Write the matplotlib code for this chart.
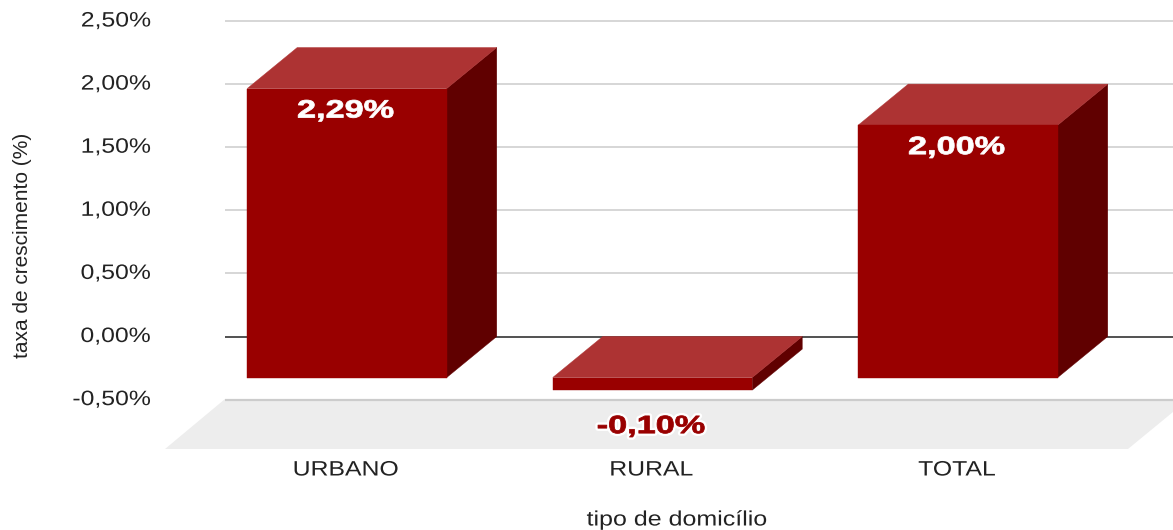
import matplotlib
matplotlib.use("Agg")
import matplotlib.pyplot as plt
from matplotlib.patches import Polygon
from matplotlib.patheffects import AbstractPathEffect
from matplotlib.transforms import Affine2D, blended_transform_factory

categories = ["URBANO", "RURAL", "TOTAL"]
growth = [2.29, -0.10, 2.00]
value_labels = ["2,29%", "-0,10%", "2,00%"]
y_ticks = [2.5, 2.0, 1.5, 1.0, 0.5, 0.0, -0.5]
y_tick_labels = ["2,50%", "2,00%", "1,50%", "1,00%", "0,50%", "0,00%", "-0,50%"]

W, H = 1173, 530
X_PX = 305.5   # pixels per category
Y_PX = 126.2   # pixels per percentage point
X0, Y0 = 347, 336.5   # where category 0 / value 0 sit
DX, DY = 50 / X_PX, 41 / Y_PX   # depth of the fake 3D box
BAR_W = 199.5 / X_PX


class Widen(AbstractPathEffect):
    """Stretch a text's glyphs sideways, with an optional halo."""

    def __init__(self, sx, anchor="center", **gc_kw):
        super().__init__()
        self.sx, self.anchor, self.gc_kw = sx, anchor, gc_kw

    def draw_path(self, renderer, gc, tpath, affine, rgbFace=None):
        box = tpath.get_extents()
        x0 = box.x1 if self.anchor == "right" else (box.x0 + box.x1) / 2
        aff = Affine2D().translate(-x0, 0).scale(self.sx, 1).translate(x0, 0) + affine
        gc0 = renderer.new_gc()
        gc0.copy_properties(gc)
        gc0 = self._update_gc(gc0, self.gc_kw)
        renderer.draw_path(gc0, tpath, aff, rgbFace)
        gc0.restore()


plt.rcParams["font.family"] = ["Liberation Sans", "DejaVu Sans"]
fig = plt.figure(figsize=(W / 100, H / 100), dpi=100)
ax = fig.add_axes([0, 0, 1, 1])
ax.set_xlim(-X0 / X_PX, (W - X0) / X_PX)
ax.set_ylim(-(H - Y0) / Y_PX, Y0 / Y_PX)
ax.axis("off")

# pixel-style coordinates for the floor and the axis titles
pix = Affine2D().scale(1, -1).translate(0, H)
y_data = blended_transform_factory(pix, ax.transData)
x_data = blended_transform_factory(ax.transData, pix)

ax.add_patch(Polygon([(225, 399), (165, 449), (1128, 449), (1173, 412), (1173, 399)],
                     closed=True, fc="#ededed", ec="none", transform=pix, zorder=1))

for v, lab in zip(y_ticks, y_tick_labels):
    col, lw = ("#333333", 1.2) if v == 0 else ("#cccccc", 1.6 if v == -0.5 else 1.1)
    ax.plot([225, W], [v, v], color=col, lw=lw, transform=y_data, zorder=2, solid_capstyle="butt")
    ax.text(151, v, lab, transform=y_data, ha="right", va="center", fontsize=15, color="#222222",
            path_effects=[Widen(1.19, "right")])

for i, (v, lab) in enumerate(zip(growth, value_labels)):
    top, bot = max(v, 0), min(v, 0)
    l, r = i - BAR_W / 2, i + BAR_W / 2
    y_base = top - DY
    y_low = bot - DY
    ax.add_patch(Polygon([(r, y_base), (r + DX, top), (r + DX, bot), (r, y_low)],
                         fc="#600000", ec="#600000", lw=0.3, zorder=3))
    ax.add_patch(Polygon([(l, y_base), (l + DX, top), (r + DX, top), (r, y_base)],
                         fc="#ad3333", ec="#ad3333", lw=0.3, zorder=3))
    ax.add_patch(Polygon([(l, y_low), (l, y_base), (r, y_base), (r, y_low)],
                         fc="#990000", ec="#990000", lw=0.3, zorder=4))
    if v >= 0:
        ax.annotate(lab, xy=(i, y_base), xytext=(-1, -22 * 0.72), textcoords="offset points",
                    ha="center", va="center", fontsize=18, fontweight="bold", color="white",
                    zorder=5, path_effects=[Widen(1.37, linewidth=0.6, foreground="white")])
    else:
        ax.annotate(lab, xy=(i, y_low), xytext=(-1, -36 * 0.72), textcoords="offset points",
                    ha="center", va="center", fontsize=18, fontweight="bold", color="#990000",
                    zorder=5, path_effects=[Widen(1.37, linewidth=4, foreground="white"),
                                            Widen(1.37, linewidth=0.6, foreground="#990000")])
    ax.text(i - 1 / X_PX, 470, categories[i], transform=x_data,
            ha="center", va="center", fontsize=15, color="#222222", path_effects=[Widen(1.19)])

ax.text(677, 520, "tipo de domicílio", transform=pix, ha="center", va="center",
        fontsize=15, color="#222222", path_effects=[Widen(1.2)])
ax.text(23, 245, "taxa de crescimento (%)", transform=pix, ha="center", va="center",
        rotation=90, fontsize=15, color="#222222")

fig.savefig("out.png", dpi=100)
